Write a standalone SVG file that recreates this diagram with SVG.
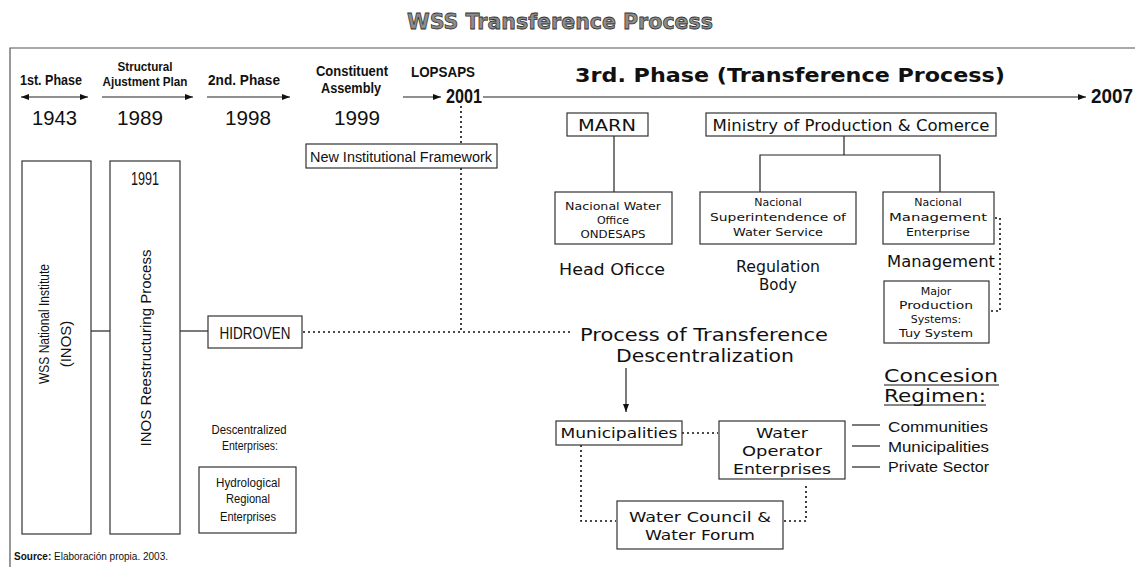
<svg xmlns="http://www.w3.org/2000/svg" width="1135" height="567" viewBox="0 0 1135 567">
<defs>
<marker id="ah" markerWidth="8" markerHeight="6" refX="8" refY="3" orient="auto-start-reverse" markerUnits="userSpaceOnUse">
<path d="M0,0 L8,3 L0,6 z" fill="#111"/>
</marker>
<style>
.box{fill:#fff;stroke:#333;stroke-width:1.2}
.ln{fill:none;stroke:#222;stroke-width:1.2}
.dot{fill:none;stroke:#111;stroke-width:1.6;stroke-dasharray:2,3}
.tl{font-family:"Liberation Sans",Arial,sans-serif;font-weight:bold;fill:#111}
.yr{font-family:"Liberation Sans",Arial,sans-serif;font-size:20px;fill:#111}
.n{font-family:"Liberation Sans",Arial,sans-serif;fill:#111}
.g{font-family:"DejaVu Sans",sans-serif;fill:#111}
</style>
</defs>
<rect width="1135" height="567" fill="#fff"/>
<text x="560" y="29" text-anchor="middle" font-family="DejaVu Sans" font-weight="bold" font-size="22" fill="#8c8c8c" stroke="#333" stroke-width="0.8" textLength="306" lengthAdjust="spacingAndGlyphs">WSS Transference Process</text>
<g id="frame"><path d="M1135,48 H10 V567" fill="none" stroke="#555" stroke-width="1.2"/></g>

<g id="timeline">
<text class="tl" x="20" y="85" font-size="14" textLength="62" lengthAdjust="spacingAndGlyphs">1st. Phase</text>
<text class="tl" x="145" y="71" font-size="12" text-anchor="middle" textLength="55" lengthAdjust="spacingAndGlyphs">Structural</text>
<text class="tl" x="145" y="86" font-size="12" text-anchor="middle" textLength="85" lengthAdjust="spacingAndGlyphs">Ajustment Plan</text>
<text class="tl" x="244" y="85" font-size="14" text-anchor="middle" textLength="72" lengthAdjust="spacingAndGlyphs">2nd. Phase</text>
<text class="tl" x="352" y="76" font-size="14" text-anchor="middle" textLength="72" lengthAdjust="spacingAndGlyphs">Constituent</text>
<text class="tl" x="351" y="93" font-size="14" text-anchor="middle" textLength="60" lengthAdjust="spacingAndGlyphs">Assembly</text>
<text class="tl" x="443" y="77" font-size="14" text-anchor="middle" textLength="64" lengthAdjust="spacingAndGlyphs">LOPSAPS</text>
<text class="tl" x="446" y="103" font-size="20" textLength="36" lengthAdjust="spacingAndGlyphs">2001</text>
<text class="tl" x="1091" y="103" font-size="20" textLength="42" lengthAdjust="spacingAndGlyphs">2007</text>
<text x="790" y="82" text-anchor="middle" font-family="DejaVu Sans" font-weight="bold" font-size="19" fill="#111" textLength="430" lengthAdjust="spacingAndGlyphs">3rd. Phase (Transference Process)</text>
<text class="yr" x="32" y="125" textLength="45" lengthAdjust="spacingAndGlyphs">1943</text>
<text class="yr" x="117" y="125" textLength="46" lengthAdjust="spacingAndGlyphs">1989</text>
<text class="yr" x="225" y="125" textLength="46" lengthAdjust="spacingAndGlyphs">1998</text>
<text class="yr" x="334" y="125" textLength="46" lengthAdjust="spacingAndGlyphs">1999</text>
</g>

<g id="connectors">
<line class="ln" x1="21" y1="97" x2="88" y2="97" marker-start="url(#ah)" marker-end="url(#ah)"/>
<line class="ln" x1="102" y1="97" x2="193" y2="97" marker-end="url(#ah)"/>
<line class="ln" x1="207" y1="97" x2="290" y2="97" marker-end="url(#ah)"/>
<line class="ln" x1="403" y1="97" x2="441" y2="97" marker-end="url(#ah)"/>
<line class="ln" x1="483" y1="97" x2="1086" y2="97" marker-end="url(#ah)"/>
<line class="dot" x1="461" y1="106" x2="461" y2="144"/>
<line class="dot" x1="461" y1="168" x2="461" y2="331"/>
<line class="ln" x1="91" y1="331" x2="110" y2="331"/>
<line class="ln" x1="180" y1="331" x2="208" y2="331"/>
<line class="dot" x1="303" y1="332" x2="573" y2="332"/>
<line class="ln" x1="614" y1="136" x2="614" y2="192"/>
<polyline class="ln" points="844,136 844,155"/>
<polyline class="ln" points="760,192 760,155 940,155 940,192"/>
<polyline class="dot" points="995,218 1000,218 1000,311 989,311"/>
<line class="ln" x1="626" y1="368" x2="626" y2="412" marker-end="url(#ah)"/>
<line class="dot" x1="682" y1="433" x2="718" y2="433"/>
<polyline class="dot" points="581,445 581,521 616,521"/>
<polyline class="dot" points="784,521 806,521 806,486"/>
<line class="ln" x1="852" y1="425" x2="880" y2="425"/>
<line class="ln" x1="852" y1="446" x2="880" y2="446"/>
<line class="ln" x1="852" y1="467" x2="880" y2="467"/>
</g>

<g id="new-framework">
<rect class="box" x="306" y="144" width="191" height="24"/>
<text class="n" x="401" y="162" font-size="14" text-anchor="middle" textLength="182" lengthAdjust="spacingAndGlyphs">New Institutional Framework</text>
</g>
<g id="inos">
<rect class="box" x="22" y="161" width="69" height="373"/>
<text class="n" font-size="15" text-anchor="middle" transform="translate(49,324) rotate(-90)" textLength="120" lengthAdjust="spacingAndGlyphs">WSS National Institute</text>
<text class="n" font-size="15" text-anchor="middle" transform="translate(71,344) rotate(-90)">(INOS)</text>
</g>
<g id="inos-restructuring">
<rect class="box" x="110" y="161" width="70" height="373"/>
<text class="n" x="145" y="185" font-size="18" text-anchor="middle" textLength="28" lengthAdjust="spacingAndGlyphs">1991</text>
<text class="n" font-size="15" text-anchor="middle" transform="translate(151,348) rotate(-90)" textLength="197" lengthAdjust="spacingAndGlyphs">INOS Reestructuring Process</text>
</g>
<g id="hidroven">
<rect class="box" x="208" y="316" width="94" height="32"/>
<text class="n" x="255" y="339" font-size="16" text-anchor="middle" textLength="71" lengthAdjust="spacingAndGlyphs">HIDROVEN</text>
</g>
<g id="descentralized">
<text class="n" x="249" y="434" font-size="13" text-anchor="middle" textLength="75" lengthAdjust="spacingAndGlyphs">Descentralized</text>
<text class="n" x="250" y="450" font-size="13" text-anchor="middle" textLength="56" lengthAdjust="spacingAndGlyphs">Enterprises:</text>
</g>
<g id="hydrological">
<rect class="box" x="199" y="467" width="97" height="66"/>
<text class="n" x="248" y="487" font-size="12" text-anchor="middle" textLength="64" lengthAdjust="spacingAndGlyphs">Hydrological</text>
<text class="n" x="248" y="503" font-size="12" text-anchor="middle" textLength="44" lengthAdjust="spacingAndGlyphs">Regional</text>
<text class="n" x="248" y="521" font-size="12" text-anchor="middle" textLength="56" lengthAdjust="spacingAndGlyphs">Enterprises</text>
</g>

<g id="marn">
<rect class="box" x="567" y="113" width="81" height="23"/>
<text class="g" x="607" y="131" font-size="16" text-anchor="middle" textLength="58" lengthAdjust="spacingAndGlyphs">MARN</text>
</g>
<g id="ministry">
<rect class="box" x="706" y="113" width="290" height="23"/>
<text class="g" x="851" y="131" font-size="16" text-anchor="middle" textLength="277" lengthAdjust="spacingAndGlyphs">Ministry of Production &amp; Comerce</text>
</g>
<g id="ondesaps">
<rect class="box" x="555" y="192" width="117" height="52"/>
<text class="g" x="613" y="210" font-size="11" text-anchor="middle" textLength="96" lengthAdjust="spacingAndGlyphs">Nacional Water</text>
<text class="g" x="613" y="224" font-size="11" text-anchor="middle">Office</text>
<text class="g" x="613" y="238" font-size="11" text-anchor="middle" textLength="65" lengthAdjust="spacingAndGlyphs">ONDESAPS</text>
</g>
<g id="superintendence">
<rect class="box" x="700" y="192" width="156" height="52"/>
<text class="g" x="778" y="206" font-size="11" text-anchor="middle">Nacional</text>
<text class="g" x="778" y="221" font-size="11" text-anchor="middle" textLength="136" lengthAdjust="spacingAndGlyphs">Superintendence of</text>
<text class="g" x="778" y="236" font-size="11" text-anchor="middle" textLength="90" lengthAdjust="spacingAndGlyphs">Water Service</text>
</g>
<g id="management-enterprise">
<rect class="box" x="883" y="192" width="111" height="52"/>
<text class="g" x="938" y="206" font-size="11" text-anchor="middle">Nacional</text>
<text class="g" x="938" y="221" font-size="11" text-anchor="middle" textLength="98" lengthAdjust="spacingAndGlyphs">Management</text>
<text class="g" x="938" y="236" font-size="11" text-anchor="middle" textLength="64" lengthAdjust="spacingAndGlyphs">Enterprise</text>
</g>
<g id="labels-3rd">
<text class="g" x="612" y="275" font-size="15" text-anchor="middle" textLength="106" lengthAdjust="spacingAndGlyphs">Head Oficce</text>
<text class="g" x="778" y="272" font-size="15" text-anchor="middle" textLength="84" lengthAdjust="spacingAndGlyphs">Regulation</text>
<text class="g" x="778" y="290" font-size="15" text-anchor="middle">Body</text>
<text class="g" x="941" y="267" font-size="15" text-anchor="middle" textLength="108" lengthAdjust="spacingAndGlyphs">Management</text>
</g>
<g id="major-production">
<rect class="box" x="884" y="281" width="105" height="62"/>
<text class="g" x="936" y="295" font-size="11" text-anchor="middle">Major</text>
<text class="g" x="936" y="309" font-size="11" text-anchor="middle" textLength="74" lengthAdjust="spacingAndGlyphs">Production</text>
<text class="g" x="936" y="323" font-size="11" text-anchor="middle">Systems:</text>
<text class="g" x="936" y="337" font-size="11" text-anchor="middle" textLength="74" lengthAdjust="spacingAndGlyphs">Tuy System</text>
</g>
<g id="process">
<text class="g" x="704" y="341" font-size="18" text-anchor="middle" textLength="248" lengthAdjust="spacingAndGlyphs">Process of Transference</text>
<text class="g" x="705" y="362" font-size="18" text-anchor="middle" textLength="178" lengthAdjust="spacingAndGlyphs">Descentralization</text>
</g>
<g id="concesion">
<text class="g" x="884" y="382" font-size="18" textLength="114" lengthAdjust="spacingAndGlyphs">Concesion</text>
<line x1="884" y1="385" x2="999" y2="385" stroke="#111" stroke-width="1"/>
<text class="g" x="884" y="402" font-size="18" textLength="102" lengthAdjust="spacingAndGlyphs">Regimen:</text>
<line x1="884" y1="405" x2="986" y2="405" stroke="#111" stroke-width="1"/>
<text class="n" x="888" y="432" font-size="15" textLength="100" lengthAdjust="spacingAndGlyphs">Communities</text>
<text class="n" x="888" y="452" font-size="15" textLength="101" lengthAdjust="spacingAndGlyphs">Municipalities</text>
<text class="n" x="888" y="472" font-size="15" textLength="101" lengthAdjust="spacingAndGlyphs">Private Sector</text>
</g>
<g id="municipalities">
<rect class="box" x="556" y="421" width="126" height="24"/>
<text class="g" x="619" y="438" font-size="14" text-anchor="middle" textLength="117" lengthAdjust="spacingAndGlyphs">Municipalities</text>
</g>
<g id="water-operator">
<rect class="box" x="719" y="421" width="126" height="58"/>
<text class="g" x="782" y="438" font-size="14" text-anchor="middle" textLength="52" lengthAdjust="spacingAndGlyphs">Water</text>
<text class="g" x="782" y="456" font-size="14" text-anchor="middle" textLength="80" lengthAdjust="spacingAndGlyphs">Operator</text>
<text class="g" x="782" y="474" font-size="14" text-anchor="middle" textLength="98" lengthAdjust="spacingAndGlyphs">Enterprises</text>
</g>
<g id="water-council">
<rect class="box" x="617" y="501" width="166" height="48"/>
<text class="g" x="700" y="522" font-size="14" text-anchor="middle" textLength="142" lengthAdjust="spacingAndGlyphs">Water Council &amp;</text>
<text class="g" x="700" y="540" font-size="14" text-anchor="middle" textLength="110" lengthAdjust="spacingAndGlyphs">Water Forum</text>
</g>
<text x="14" y="560" font-family="Liberation Sans, Arial, sans-serif" font-size="10" fill="#111"><tspan font-weight="bold">Source:</tspan> Elaboración propia. 2003.</text>
</svg>
